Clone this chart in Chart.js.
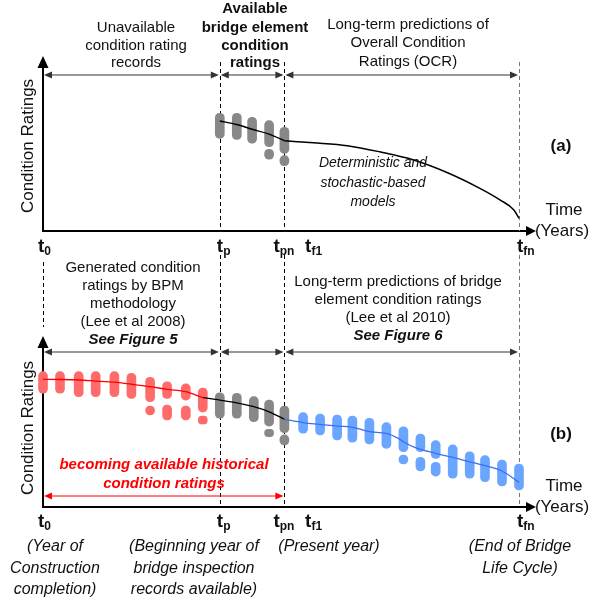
<!DOCTYPE html>
<html>
<head>
<meta charset="utf-8">
<script src="https://cdn.jsdelivr.net/npm/chart.js@4.4.1/dist/chart.umd.min.js"></script>
<style>
  html, body { margin: 0; padding: 0; background: #fff; }
  #wrap { position: relative; width: 599px; height: 601px; }
  canvas { position: absolute; left: 0; top: 0; }
</style>
</head>
<body>
<div id="wrap">
  <canvas id="chartA" width="599" height="601"></canvas>
  <canvas id="chartB" width="599" height="601"></canvas>
</div>
<script>
// time landmarks (years from t0) and their subscripts
const markT = [0, 10.4, 14.2, 15.3, 28];
const markSub = ['0', 'p', 'pn', 'f1', 'fn'];

// panel (a): available inspection ratings
const aClusterX = [10.4, 11.4, 12.3, 13.3, 14.2];
const aClusterLow = [5.45, 5.39, 5.16, 4.96, 4.57];
const aClusterHigh = [6.92, 6.92, 6.69, 6.49, 6.1];
const aExtraX = [13.3, 14.2];
const aExtraLow = [4.22, 3.84];
const aExtraHigh = [4.81, 4.43];
const aTrendX = [10.4, 11.4, 12.3, 13.3, 14.2];
const aTrendY = [6.47, 6.26, 5.98, 5.7, 5.31];
// panel (a): OCR long-term prediction
const aOcrX = [14.2, 15.9, 17.9, 19.8, 21.8, 23.8, 25.7, 26.9, 27.7, 28];
const aOcrY = [5.31, 5.19, 5.02, 4.66, 4.18, 3.43, 2.51, 1.82, 1.24, 0.75];

// panel (b): BPM generated ratings (red)
const redX = [0, 1.0, 2.1, 3.1, 4.2, 5.2, 6.3, 7.3, 8.4, 9.4];
const redLow = [6.69, 6.69, 6.49, 6.49, 6.49, 6.39, 6.19, 6.39, 6.29, 5.59];
const redHigh = [7.96, 7.96, 7.96, 7.96, 7.96, 7.86, 7.63, 7.37, 7.24, 7.0];
const redExtraX = [6.3, 7.3, 8.4, 9.4];
const redExtraLow = [5.41, 5.12, 5.12, 4.88];
const redExtraHigh = [5.94, 6.0, 5.94, 5.35];
const redLineX = [0, 1.0, 2.1, 3.1, 4.2, 5.2, 6.3, 7.3, 8.4, 9.4];
const redLineY = [7.51, 7.5, 7.47, 7.41, 7.34, 7.22, 7.08, 6.92, 6.78, 6.43];

// panel (b): available ratings (gray)
const grayX = [10.4, 11.4, 12.4, 13.3, 14.2];
const grayLow = [5.22, 5.22, 5.02, 4.76, 4.37];
const grayHigh = [6.72, 6.69, 6.49, 6.29, 5.94];
const grayExtraX = [13.3, 14.2];
const grayExtraLow = [4.14, 3.65];
const grayExtraHigh = [4.57, 4.24];
const grayLineX = [9.4, 10.4, 11.4, 12.4, 13.3, 14.2];
const grayLineY = [6.43, 6.29, 6.13, 5.9, 5.6, 5.16];

// panel (b): long-term predictions (blue)
const blueX = [15.3, 16.3, 17.3, 18.2, 19.2, 20.2, 21.2, 22.2, 23.1, 24.1, 25.1, 26.0, 27.0, 28.0];
const blueLow = [4.34, 4.24, 3.94, 3.81, 3.71, 3.45, 3.25, 3.25, 2.86, 1.69, 1.69, 1.49, 1.24, 1.0];
const blueHigh = [5.55, 5.47, 5.41, 5.35, 5.22, 4.96, 4.72, 4.29, 3.9, 3.65, 3.25, 3.02, 2.76, 2.53];
const blueExtraX = [21.2, 22.2, 23.1];
const blueExtraLow = [2.53, 2.12, 1.82];
const blueExtraHigh = [3.06, 2.92, 2.63];
const blueLineX = [14.2, 15.3, 17.3, 18.2, 19.2, 20.2, 20.9, 21.2, 21.9, 23.1, 24.1, 25.1, 26.0, 27.0, 28.0];
const blueLineY = [5.16, 4.96, 4.76, 4.69, 4.43, 4.33, 4.04, 3.84, 3.49, 3.16, 2.92, 2.66, 2.43, 2.12, 1.45];

const FONT = "'Liberation Sans', Arial, sans-serif";
const GRAY = '#888888';
const RED = '#ff6b6b';
const BLUE = '#6aa6ff';

const ranges = (xs, lo, hi) => xs.map((x, i) => ({ x: x, y: [lo[i], hi[i]] }));
const pts = (xs, ys) => xs.map((x, i) => ({ x: x, y: ys[i] }));

function clusterSet(xs, lo, hi, color) {
    return {
        type: 'bar', data: ranges(xs, lo, hi), backgroundColor: color,
        barThickness: 9, borderRadius: 4.5, borderSkipped: false,
        grouped: false, clip: false, order: 2
    };
}
function lineSet(xs, ys, color, width) {
    return {
        type: 'line', data: pts(xs, ys), borderColor: color, borderWidth: width,
        pointRadius: 0, cubicInterpolationMode: 'monotone', fill: false,
        clip: false, order: 0
    };
}

// ---- drawing helpers ----
function head(ctx, x, y, dir, len, half) {
    ctx.beginPath();
    ctx.moveTo(x, y);
    if (dir === 'left') { ctx.lineTo(x + len, y - half); ctx.lineTo(x + len, y + half); }
    else if (dir === 'right') { ctx.lineTo(x - len, y - half); ctx.lineTo(x - len, y + half); }
    else { ctx.lineTo(x - half, y + len); ctx.lineTo(x + half, y + len); }
    ctx.closePath();
    ctx.fill();
}
function spanArrow(ctx, x1, x2, y, color) {
    ctx.save();
    ctx.strokeStyle = color; ctx.fillStyle = color; ctx.lineWidth = 1;
    ctx.beginPath(); ctx.moveTo(x1 + 3, y); ctx.lineTo(x2 - 3, y); ctx.stroke();
    head(ctx, x1 + 1, y, 'left', 8, 3.5);
    head(ctx, x2 - 1, y, 'right', 8, 3.5);
    ctx.restore();
}
function dashed(ctx, x, y1, y2, color) {
    ctx.save();
    ctx.strokeStyle = color; ctx.lineWidth = 1; ctx.setLineDash([4, 3]);
    ctx.beginPath(); ctx.moveTo(Math.round(x) + 0.5, y1); ctx.lineTo(Math.round(x) + 0.5, y2); ctx.stroke();
    ctx.restore();
}
function lines(ctx, arr, cx, ys, font, color) {
    ctx.save();
    ctx.font = font; ctx.fillStyle = color || '#111';
    ctx.textAlign = 'center'; ctx.textBaseline = 'middle';
    arr.forEach((s, i) => ctx.fillText(s, cx, ys[i]));
    ctx.restore();
}
function tLabel(ctx, x, y, sub) {
    ctx.save();
    ctx.fillStyle = '#111'; ctx.textBaseline = 'alphabetic'; ctx.textAlign = 'left';
    ctx.font = 'bold 19px ' + FONT;
    ctx.fillText('t', x, y);
    const w = ctx.measureText('t').width;
    ctx.font = 'bold 12px ' + FONT;
    ctx.fillText(sub, x + w, y + 3);
    ctx.restore();
}
function axes(ctx, area, tipY) {
    ctx.save();
    ctx.strokeStyle = '#000'; ctx.fillStyle = '#000'; ctx.lineWidth = 2;
    ctx.beginPath();
    ctx.moveTo(area.left, area.bottom); ctx.lineTo(area.left, tipY + 10);
    ctx.moveTo(area.left - 1, area.bottom); ctx.lineTo(area.right + 10, area.bottom);
    ctx.stroke();
    head(ctx, area.left, tipY, 'up', 12, 5.5);
    head(ctx, area.right + 17, area.bottom, 'right', 10, 5);
    ctx.restore();
}
function yTitle(ctx, x, y) {
    ctx.save();
    ctx.translate(x, y); ctx.rotate(-Math.PI / 2);
    ctx.font = '17px ' + FONT; ctx.fillStyle = '#111';
    ctx.textAlign = 'center'; ctx.textBaseline = 'middle';
    ctx.fillText('Condition Ratings', 0, 0);
    ctx.restore();
}

const panelA = {
    id: 'panelA',
    beforeDatasetsDraw(chart) {
        const ctx = chart.ctx, a = chart.chartArea, X = v => chart.scales.x.getPixelForValue(v);
        axes(ctx, a, 56);
        dashed(ctx, X(markT[1]), 62, a.bottom, '#000');
        dashed(ctx, X(markT[2]), 62, a.bottom, '#000');
        dashed(ctx, X(markT[4]), 62, a.bottom, '#777');
    },
    afterDraw(chart) {
        const ctx = chart.ctx, a = chart.chartArea, X = v => chart.scales.x.getPixelForValue(v);
        spanArrow(ctx, X(markT[0]), X(markT[1]), 75, '#333');
        spanArrow(ctx, X(markT[1]), X(markT[2]), 75, '#333');
        spanArrow(ctx, X(markT[2]), X(markT[4]), 75, '#333');
        lines(ctx, ['Unavailable', 'condition rating', 'records'], 136, [28, 46, 63], '15px ' + FONT);
        lines(ctx, ['Available', 'bridge element', 'condition', 'ratings'], 255, [9, 28, 46, 63], 'bold 15px ' + FONT);
        lines(ctx, ['Long-term predictions of', 'Overall Condition', 'Ratings (OCR)'], 408, [25, 43, 62], '15px ' + FONT);
        lines(ctx, ['Deterministic and', 'stochastic-based', 'models'], 373, [163, 183, 202], 'italic 14px ' + FONT);
        lines(ctx, ['(a)'], 561, [146], 'bold 17px ' + FONT);
        lines(ctx, ['Time'], 564, [210], '17px ' + FONT);
        lines(ctx, ['(Years)'], 562, [231], '17px ' + FONT);
        yTitle(ctx, 28, 146);
        const offs = [-5, -3, -11, 2, -2];
        markT.forEach((t, i) => tLabel(ctx, X(t) + offs[i], 252, markSub[i]));
    }
};

const panelB = {
    id: 'panelB',
    beforeDatasetsDraw(chart) {
        const ctx = chart.ctx, a = chart.chartArea, X = v => chart.scales.x.getPixelForValue(v);
        axes(ctx, a, 336);
        dashed(ctx, X(markT[0]), 262, 327, '#000');
        dashed(ctx, X(markT[1]), 255, a.bottom, '#000');
        dashed(ctx, X(markT[2]), 255, a.bottom, '#000');
        dashed(ctx, X(markT[4]), 255, a.bottom, '#777');
    },
    afterDraw(chart) {
        const ctx = chart.ctx, a = chart.chartArea, X = v => chart.scales.x.getPixelForValue(v);
        spanArrow(ctx, X(markT[0]), X(markT[1]), 352, '#333');
        spanArrow(ctx, X(markT[1]), X(markT[2]), 352, '#333');
        spanArrow(ctx, X(markT[2]), X(markT[4]), 352, '#333');
        spanArrow(ctx, X(markT[0]), X(markT[2]), 496, '#ff0000');
        lines(ctx, ['Generated condition', 'ratings by BPM', 'methodology', '(Lee et al 2008)'], 133, [268, 286, 304, 322], '15px ' + FONT);
        lines(ctx, ['See Figure 5'], 133, [340], 'italic bold 15px ' + FONT);
        lines(ctx, ['Long-term predictions of bridge', 'element condition ratings', '(Lee et al 2010)'], 398, [282, 300, 318], '15px ' + FONT);
        lines(ctx, ['See Figure 6'], 398, [336], 'italic bold 15px ' + FONT);
        lines(ctx, ['becoming available historical', 'condition ratings'], 164, [465, 484], 'italic bold 15px ' + FONT, '#ff0000');
        lines(ctx, ['(b)'], 561, [434], 'bold 17px ' + FONT);
        lines(ctx, ['Time'], 564, [486], '17px ' + FONT);
        lines(ctx, ['(Years)'], 562, [507], '17px ' + FONT);
        yTitle(ctx, 28, 428);
        const offs = [-5, -3, -11, 2, -2];
        markT.forEach((t, i) => tLabel(ctx, X(t) + offs[i], 527, markSub[i]));
        const it = 'italic 16px ' + FONT;
        lines(ctx, ['(Year of', 'Construction', 'completion)'], 55, [547, 569, 590], it);
        lines(ctx, ['(Beginning year of', 'bridge inspection', 'records available)'], 194, [547, 569, 590], it);
        lines(ctx, ['(Present year)'], 329, [547], it);
        lines(ctx, ['(End of Bridge', 'Life Cycle)'], 520, [547, 569], it);
    }
};

function baseOptions(top, bottom) {
    return {
        responsive: false,
        animation: false,
        layout: { padding: { left: 43, right: 80, top: top, bottom: bottom } },
        plugins: { legend: { display: false }, tooltip: { enabled: false } },
        scales: {
            x: { type: 'linear', min: 0, max: 28, offset: false, display: false },
            y: { min: 0, max: 10, display: false }
        }
    };
}

new Chart(document.getElementById('chartA').getContext('2d'), {
    type: 'bar',
    data: {
        datasets: [
            lineSet(aTrendX, aTrendY, '#000', 1.5),
            lineSet(aOcrX, aOcrY, '#000', 1.5),
            clusterSet(aClusterX, aClusterLow, aClusterHigh, GRAY),
            clusterSet(aExtraX, aExtraLow, aExtraHigh, GRAY)
        ]
    },
    options: baseOptions(61, 370),
    plugins: [panelA]
});

new Chart(document.getElementById('chartB').getContext('2d'), {
    type: 'bar',
    data: {
        datasets: [
            lineSet(redLineX, redLineY, '#ff0000', 1.3),
            lineSet(grayLineX, grayLineY, '#000', 1.3),
            lineSet(blueLineX, blueLineY, '#3b6ff0', 1.3),
            clusterSet(redX, redLow, redHigh, RED),
            clusterSet(redExtraX, redExtraLow, redExtraHigh, RED),
            clusterSet(grayX, grayLow, grayHigh, GRAY),
            clusterSet(grayExtraX, grayExtraLow, grayExtraHigh, GRAY),
            clusterSet(blueX, blueLow, blueHigh, BLUE),
            clusterSet(blueExtraX, blueExtraLow, blueExtraHigh, BLUE)
        ]
    },
    options: baseOptions(337, 94),
    plugins: [panelB]
});
</script>
</body>
</html>
